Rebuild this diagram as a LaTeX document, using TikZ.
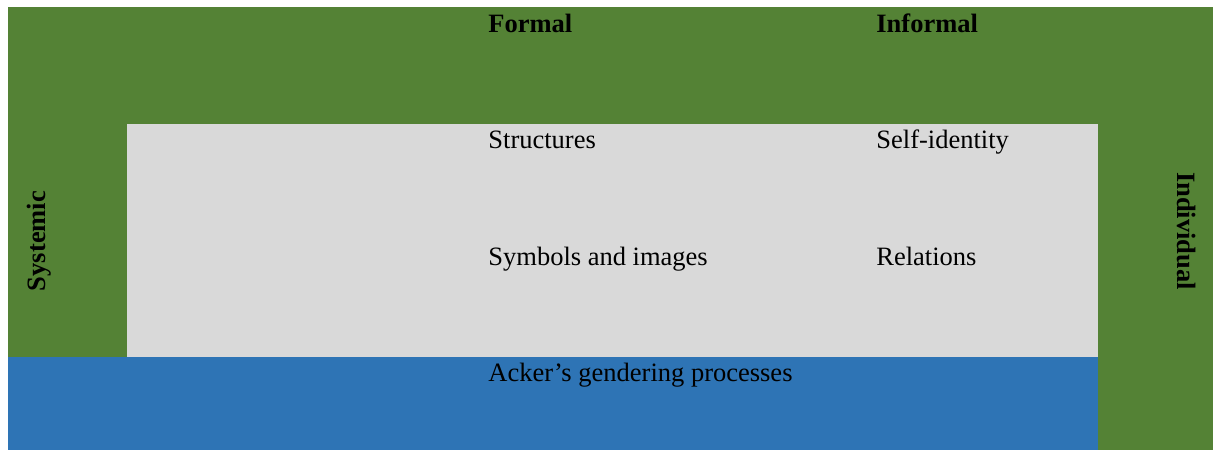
\documentclass[tikz,border=0pt]{standalone}
\usepackage{fontspec}
\setmainfont{Liberation Serif}
\usetikzlibrary{positioning}
\definecolor{dimgreen}{HTML}{548235}
\definecolor{panelgray}{HTML}{D9D9D9}
\definecolor{ackblue}{HTML}{2E74B5}
\begin{document}
\begin{tikzpicture}[x=0.5bp, y=-0.5bp,
  lbl/.style={text=black, inner sep=0pt, anchor=base west, font=\fontsize{13.3}{16}\selectfont},
  head/.style={lbl, font=\fontsize{13.3}{16}\selectfont\bfseries},
  side/.style={text=black, inner sep=0pt, font=\fontsize{13.3}{16}\selectfont\bfseries}]

\useasboundingbox (0,0) rectangle (1213,450);

% Background
\fill[dimgreen] (8,7) rectangle (1213,450);

% Inner panel
\fill[panelgray] (127,124) rectangle (1098,357);

% Bottom band
\fill[ackblue] (8,357) rectangle (1098,450);

% Column heads
\node[head] (formal) at (488,33) {Formal};
\node[head] (informal) at (876,33) {Informal};

% --- Formal column ---
\node[lbl] (struct) at (488,149) {Structures};
\node[lbl] (symb) at (488,266) {Symbols and images};
\node[lbl] (acker) at (488,382) {Acker’s gendering processes};

% --- Informal column ---
\node[lbl] (self) at (876,149) {Self-identity};
\node[lbl] (rel) at (876,266) {Relations};

% Side labels
\node[side, rotate=90] (systemic) at (39,241) {Systemic};
\node[side, rotate=-90] (indiv) at (1187,231) {Individual};

\end{tikzpicture}
\end{document}
